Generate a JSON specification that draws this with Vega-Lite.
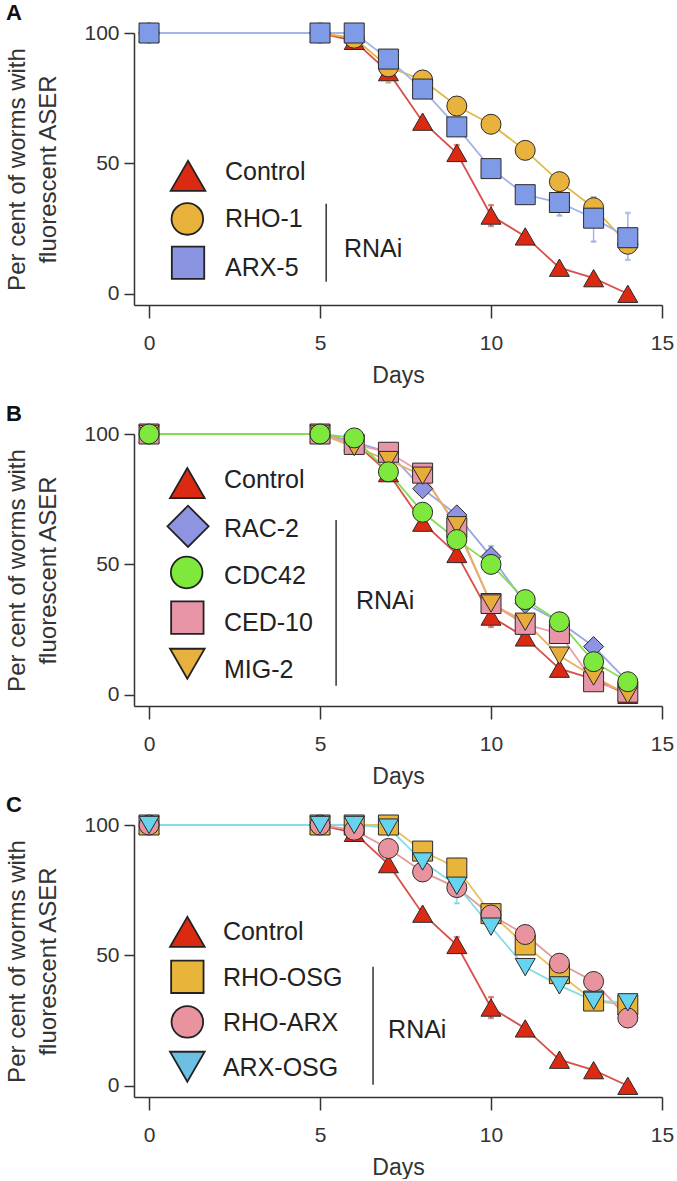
{
"$schema": "https://vega.github.io/schema/vega-lite/v6.json",
"background": "white",
"padding": {"left": 5, "top": 2, "right": 2, "bottom": 0},
"spacing": 16,
"resolve": {"scale": {"fill": "independent", "shape": "independent", "stroke": "independent"}, "legend": {"fill": "independent", "shape": "independent"}},
"config": {
  "view": {"stroke": null},
  "font": "Liberation Sans",
  "axis": {"grid": false, "domainColor": "#333", "domainWidth": 1.5, "tickColor": "#333", "tickWidth": 1.5, "labelFont": "Liberation Sans", "labelFontSize": 21, "labelColor": "#333", "titleFont": "Liberation Sans", "titleFontWeight": "normal", "titleColor": "#333", "labelOverlap": false},
  "axisX": {"tickSize": 13, "labelPadding": 14, "titleFontSize": 23, "titlePadding": 11, "labelFlush": false},
  "axisY": {"tickSize": 10, "labelPadding": 5, "titleFontSize": 24, "titlePadding": 23, "titleLineHeight": 31},
  "text": {"font": "Liberation Sans", "fontSize": 25, "align": "left", "baseline": "middle", "color": "#222"},
  "title": {"anchor": "start", "frame": "bounds", "fontSize": 22, "fontWeight": "bold", "font": "Liberation Sans", "color": "#111", "offset": -4}
},
"datasets": {
  "a": [
    {"s":"Control","d":0,"v":100},{"s":"Control","d":5,"v":100},{"s":"Control","d":6,"v":97},{"s":"Control","d":7,"v":85},{"s":"Control","d":8,"v":66},{"s":"Control","d":9,"v":54,"lo":51,"hi":57},{"s":"Control","d":10,"v":30,"lo":26,"hi":34},{"s":"Control","d":11,"v":22},{"s":"Control","d":12,"v":10},{"s":"Control","d":13,"v":6},{"s":"Control","d":14,"v":0},
    {"s":"RHO-1","d":0,"v":100},{"s":"RHO-1","d":5,"v":100},{"s":"RHO-1","d":6,"v":98},{"s":"RHO-1","d":7,"v":87,"lo":81,"hi":91},{"s":"RHO-1","d":8,"v":82},{"s":"RHO-1","d":9,"v":72},{"s":"RHO-1","d":10,"v":65},{"s":"RHO-1","d":11,"v":55},{"s":"RHO-1","d":12,"v":43},{"s":"RHO-1","d":13,"v":33,"lo":29,"hi":37},{"s":"RHO-1","d":14,"v":19},
    {"s":"ARX-5","d":0,"v":100},{"s":"ARX-5","d":5,"v":100},{"s":"ARX-5","d":6,"v":100},{"s":"ARX-5","d":7,"v":90},{"s":"ARX-5","d":8,"v":78.5},{"s":"ARX-5","d":9,"v":64},{"s":"ARX-5","d":10,"v":48},{"s":"ARX-5","d":11,"v":38,"lo":35,"hi":41},{"s":"ARX-5","d":12,"v":35,"lo":30,"hi":40},{"s":"ARX-5","d":13,"v":29,"lo":20,"hi":37},{"s":"ARX-5","d":14,"v":21.5,"lo":13,"hi":31}
  ],
  "b": [
    {"s":"Control","d":0,"v":100},{"s":"Control","d":5,"v":100},{"s":"Control","d":6,"v":97},{"s":"Control","d":7,"v":85},{"s":"Control","d":8,"v":66},{"s":"Control","d":9,"v":54,"lo":51,"hi":57},{"s":"Control","d":10,"v":30,"lo":26,"hi":34},{"s":"Control","d":11,"v":22},{"s":"Control","d":12,"v":10},{"s":"Control","d":13,"v":6},{"s":"Control","d":14,"v":0},
    {"s":"RAC-2","d":0,"v":100},{"s":"RAC-2","d":5,"v":100},{"s":"RAC-2","d":6,"v":97},{"s":"RAC-2","d":7,"v":93},{"s":"RAC-2","d":8,"v":79},{"s":"RAC-2","d":9,"v":69},{"s":"RAC-2","d":10,"v":53,"lo":50,"hi":57},{"s":"RAC-2","d":11,"v":35},{"s":"RAC-2","d":12,"v":28},{"s":"RAC-2","d":13,"v":18.5},{"s":"RAC-2","d":14,"v":5},
    {"s":"CED-10","d":0,"v":100},{"s":"CED-10","d":5,"v":100},{"s":"CED-10","d":6,"v":96},{"s":"CED-10","d":7,"v":93},{"s":"CED-10","d":8,"v":85},{"s":"CED-10","d":9,"v":64},{"s":"CED-10","d":10,"v":35},{"s":"CED-10","d":11,"v":27},{"s":"CED-10","d":12,"v":23.5},{"s":"CED-10","d":13,"v":5},{"s":"CED-10","d":14,"v":1},
    {"s":"MIG-2","d":0,"v":100},{"s":"MIG-2","d":5,"v":100},{"s":"MIG-2","d":6,"v":95},{"s":"MIG-2","d":7,"v":90},{"s":"MIG-2","d":8,"v":84},{"s":"MIG-2","d":9,"v":65},{"s":"MIG-2","d":10,"v":35},{"s":"MIG-2","d":11,"v":28},{"s":"MIG-2","d":12,"v":15},{"s":"MIG-2","d":13,"v":7},{"s":"MIG-2","d":14,"v":0},
    {"s":"CDC42","d":0,"v":100},{"s":"CDC42","d":5,"v":100},{"s":"CDC42","d":6,"v":98.5},{"s":"CDC42","d":7,"v":85.5},{"s":"CDC42","d":8,"v":70},{"s":"CDC42","d":9,"v":59.5},{"s":"CDC42","d":10,"v":50},{"s":"CDC42","d":11,"v":36.5},{"s":"CDC42","d":12,"v":28},{"s":"CDC42","d":13,"v":12.7},{"s":"CDC42","d":14,"v":5}
  ],
  "c": [
    {"s":"Control","d":0,"v":100},{"s":"Control","d":5,"v":100},{"s":"Control","d":6,"v":97},{"s":"Control","d":7,"v":85},{"s":"Control","d":8,"v":66},{"s":"Control","d":9,"v":54,"lo":51,"hi":57},{"s":"Control","d":10,"v":30,"lo":26,"hi":34},{"s":"Control","d":11,"v":22},{"s":"Control","d":12,"v":10},{"s":"Control","d":13,"v":6},{"s":"Control","d":14,"v":0},
    {"s":"RHO-OSG","d":0,"v":100},{"s":"RHO-OSG","d":5,"v":100},{"s":"RHO-OSG","d":6,"v":100},{"s":"RHO-OSG","d":7,"v":100},{"s":"RHO-OSG","d":8,"v":90},{"s":"RHO-OSG","d":9,"v":83.5,"lo":79,"hi":87},{"s":"RHO-OSG","d":10,"v":66},{"s":"RHO-OSG","d":11,"v":54},{"s":"RHO-OSG","d":12,"v":43},{"s":"RHO-OSG","d":13,"v":32.5},{"s":"RHO-OSG","d":14,"v":31},
    {"s":"RHO-ARX","d":0,"v":100},{"s":"RHO-ARX","d":5,"v":100},{"s":"RHO-ARX","d":6,"v":98},{"s":"RHO-ARX","d":7,"v":91},{"s":"RHO-ARX","d":8,"v":82},{"s":"RHO-ARX","d":9,"v":76},{"s":"RHO-ARX","d":10,"v":65.5},{"s":"RHO-ARX","d":11,"v":58},{"s":"RHO-ARX","d":12,"v":47},{"s":"RHO-ARX","d":13,"v":40},{"s":"RHO-ARX","d":14,"v":26},
    {"s":"ARX-OSG","d":0,"v":100},{"s":"ARX-OSG","d":5,"v":100},{"s":"ARX-OSG","d":6,"v":100},{"s":"ARX-OSG","d":7,"v":99},{"s":"ARX-OSG","d":8,"v":86},{"s":"ARX-OSG","d":9,"v":76.7,"lo":70,"hi":82},{"s":"ARX-OSG","d":10,"v":61},{"s":"ARX-OSG","d":11,"v":45.5},{"s":"ARX-OSG","d":12,"v":38.5},{"s":"ARX-OSG","d":13,"v":32.6},{"s":"ARX-OSG","d":14,"v":32}
  ],
  "one": [{}]
},
"vconcat": [
 {
  "width": 528, "height": 272,
  "title": {"text": "A"},
  "data": {"name": "a"},
  "layer": [
   {"mark": {"type": "line", "strokeWidth": 1.8},
    "encoding": {
      "x": {"field": "d", "type": "quantitative", "title": "Days", "scale": {"domain": [-0.44, 15], "nice": false, "zero": false}, "axis": {"values": [0, 5, 10, 15]}},
      "y": {"field": "v", "type": "quantitative", "title": ["Per cent of worms with", "fluorescent ASER"], "scale": {"domain": [-4.3, 100], "nice": false}, "axis": {"values": [0, 50, 100]}},
      "stroke": {"field": "s", "type": "nominal", "scale": {"domain": ["Control", "RHO-1", "ARX-5"], "range": ["#d8504a", "#e2b848", "#a4b4e8"]}, "legend": null}
    }},
   {"transform": [{"filter": "isValid(datum.lo)"}],
    "mark": {"type": "errorbar", "ticks": true, "thickness": 1.5},
    "encoding": {
      "x": {"field": "d", "type": "quantitative", "title": "Days"},
      "y": {"field": "lo", "type": "quantitative", "title": ["Per cent of worms with", "fluorescent ASER"]},
      "y2": {"field": "hi"},
      "stroke": {"field": "s", "type": "nominal", "legend": null}
    }},
   {"mark": {"type": "point", "filled": true, "size": 400, "stroke": "#2a2a2a", "strokeWidth": 1, "opacity": 1},
    "encoding": {
      "x": {"field": "d", "type": "quantitative", "title": "Days"},
      "y": {"field": "v", "type": "quantitative", "title": ["Per cent of worms with", "fluorescent ASER"]},
      "fill": {"field": "s", "type": "nominal", "scale": {"domain": ["Control", "RHO-1", "ARX-5"], "range": ["#dc2a12", "#e9b23c", "#7f9be8"]}, "legend": null},
      "shape": {"field": "s", "type": "nominal", "scale": {"domain": ["Control", "RHO-1", "ARX-5"], "range": ["triangle-up", "circle", "square"]}, "legend": null}
    }},
   {"data": {"name": "one"}, "mark": {"type": "point", "filled": true, "opacity": 1, "shape": "triangle-up", "size": 1200, "fill": "#dc2a12", "stroke": "#222", "strokeWidth": 1.8}, "encoding": {"x": {"datum": 1.14}, "y": {"datum": 45.2}}},
   {"data": {"name": "one"}, "mark": {"type": "point", "filled": true, "opacity": 1, "shape": "circle", "size": 1000, "fill": "#e9b23c", "stroke": "#222", "strokeWidth": 1.8}, "encoding": {"x": {"datum": 1.12}, "y": {"datum": 28.7}}},
   {"data": {"name": "one"}, "mark": {"type": "point", "filled": true, "opacity": 1, "shape": "square", "size": 1050, "fill": "#8a94e0", "stroke": "#222", "strokeWidth": 1.8}, "encoding": {"x": {"datum": 1.14}, "y": {"datum": 11.9}}},
   {"data": {"name": "one"}, "mark": {"type": "text", "text": "Control"}, "encoding": {"x": {"datum": 2.22}, "y": {"datum": 46.7}}},
   {"data": {"name": "one"}, "mark": {"type": "text", "text": "RHO-1"}, "encoding": {"x": {"datum": 2.22}, "y": {"datum": 28.7}}},
   {"data": {"name": "one"}, "mark": {"type": "text", "text": "ARX-5"}, "encoding": {"x": {"datum": 2.22}, "y": {"datum": 10}}},
   {"data": {"name": "one"}, "mark": {"type": "rule", "color": "#333", "strokeWidth": 1.5},
    "encoding": {"x": {"datum": 5.18}, "y": {"datum": 34.5}, "y2": {"datum": 4.6}}},
   {"data": {"name": "one"}, "mark": {"type": "text", "text": "RNAi"},
    "encoding": {"x": {"datum": 5.7}, "y": {"datum": 17}}}
  ]
 },
 {
  "spacing": 6,
  "resolve": {"scale": {"fill": "independent", "shape": "independent", "stroke": "independent"}, "legend": {"fill": "independent", "shape": "independent"}},
  "vconcat": [
   {
    "width": 528, "height": 272,
    "title": {"text": "B"},
    "data": {"name": "b"},
    "layer": [
     {"mark": {"type": "line", "strokeWidth": 1.8},
      "encoding": {
        "x": {"field": "d", "type": "quantitative", "title": "Days", "scale": {"domain": [-0.44, 15], "nice": false, "zero": false}, "axis": {"values": [0, 5, 10, 15]}},
        "y": {"field": "v", "type": "quantitative", "title": ["Per cent of worms with", "fluorescent ASER"], "scale": {"domain": [-4.3, 100], "nice": false}, "axis": {"values": [0, 50, 100]}},
        "stroke": {"field": "s", "type": "nominal", "scale": {"domain": ["Control", "RAC-2", "CDC42", "CED-10", "MIG-2"], "range": ["#d8504a", "#9aa6e8", "#86dc50", "#e8a0a8", "#e8b060"]}, "legend": null}
      }},
     {"transform": [{"filter": "isValid(datum.lo)"}],
      "mark": {"type": "errorbar", "ticks": true, "thickness": 1.5},
      "encoding": {
        "x": {"field": "d", "type": "quantitative", "title": "Days"},
        "y": {"field": "lo", "type": "quantitative", "title": ["Per cent of worms with", "fluorescent ASER"]},
        "y2": {"field": "hi"},
        "stroke": {"field": "s", "type": "nominal", "legend": null}
      }},
     {"mark": {"type": "point", "filled": true, "size": 400, "stroke": "#2a2a2a", "strokeWidth": 1, "opacity": 1},
      "encoding": {
        "x": {"field": "d", "type": "quantitative", "title": "Days"},
        "y": {"field": "v", "type": "quantitative", "title": ["Per cent of worms with", "fluorescent ASER"]},
        "fill": {"field": "s", "type": "nominal", "scale": {"domain": ["Control", "RAC-2", "CDC42", "CED-10", "MIG-2"], "range": ["#dc2a12", "#8e94e2", "#7fe83c", "#e995a8", "#e8ac3a"]}, "legend": null},
        "shape": {"field": "s", "type": "nominal", "scale": {"domain": ["Control", "RAC-2", "CDC42", "CED-10", "MIG-2"], "range": ["triangle-up", "diamond", "circle", "square", "triangle-down"]}, "legend": null}
      }},
     {"data": {"name": "one"}, "mark": {"type": "point", "filled": true, "opacity": 1, "shape": "triangle-up", "size": 1200, "fill": "#dc2a12", "stroke": "#222", "strokeWidth": 1.8}, "encoding": {"x": {"datum": 1.12}, "y": {"datum": 81.2}}},
     {"data": {"name": "one"}, "mark": {"type": "point", "filled": true, "opacity": 1, "shape": "diamond", "size": 1700, "fill": "#8e94e2", "stroke": "#222", "strokeWidth": 1.8}, "encoding": {"x": {"datum": 1.14}, "y": {"datum": 64.6}}},
     {"data": {"name": "one"}, "mark": {"type": "point", "filled": true, "opacity": 1, "shape": "circle", "size": 1000, "fill": "#7fe83c", "stroke": "#222", "strokeWidth": 1.8}, "encoding": {"x": {"datum": 1.1}, "y": {"datum": 46.9}}},
     {"data": {"name": "one"}, "mark": {"type": "point", "filled": true, "opacity": 1, "shape": "square", "size": 1050, "fill": "#e995a8", "stroke": "#222", "strokeWidth": 1.8}, "encoding": {"x": {"datum": 1.12}, "y": {"datum": 29.6}}},
     {"data": {"name": "one"}, "mark": {"type": "point", "filled": true, "opacity": 1, "shape": "triangle-down", "size": 1200, "fill": "#e8b03c", "stroke": "#222", "strokeWidth": 1.8}, "encoding": {"x": {"datum": 1.12}, "y": {"datum": 11.9}}},
     {"data": {"name": "one"}, "mark": {"type": "text", "text": "Control"}, "encoding": {"x": {"datum": 2.19}, "y": {"datum": 82.3}}},
     {"data": {"name": "one"}, "mark": {"type": "text", "text": "RAC-2"}, "encoding": {"x": {"datum": 2.19}, "y": {"datum": 63.5}}},
     {"data": {"name": "one"}, "mark": {"type": "text", "text": "CDC42"}, "encoding": {"x": {"datum": 2.19}, "y": {"datum": 45.5}}},
     {"data": {"name": "one"}, "mark": {"type": "text", "text": "CED-10"}, "encoding": {"x": {"datum": 2.19}, "y": {"datum": 27.5}}},
     {"data": {"name": "one"}, "mark": {"type": "text", "text": "MIG-2"}, "encoding": {"x": {"datum": 2.19}, "y": {"datum": 9.5}}},
     {"data": {"name": "one"}, "mark": {"type": "rule", "color": "#333", "strokeWidth": 1.5},
      "encoding": {"x": {"datum": 5.47}, "y": {"datum": 67}, "y2": {"datum": 3.5}}},
     {"data": {"name": "one"}, "mark": {"type": "text", "text": "RNAi"},
      "encoding": {"x": {"datum": 6.05}, "y": {"datum": 36}}}
    ]
   },
   {
    "width": 528, "height": 272,
    "title": {"text": "C"},
    "data": {"name": "c"},
    "layer": [
     {"mark": {"type": "line", "strokeWidth": 1.8},
      "encoding": {
        "x": {"field": "d", "type": "quantitative", "title": "Days", "scale": {"domain": [-0.44, 15], "nice": false, "zero": false}, "axis": {"values": [0, 5, 10, 15]}},
        "y": {"field": "v", "type": "quantitative", "title": ["Per cent of worms with", "fluorescent ASER"], "scale": {"domain": [-4.3, 100], "nice": false}, "axis": {"values": [0, 50, 100]}},
        "stroke": {"field": "s", "type": "nominal", "scale": {"domain": ["Control", "RHO-OSG", "RHO-ARX", "ARX-OSG"], "range": ["#d8504a", "#e8c060", "#e49a9a", "#86dce8"]}, "legend": null}
      }},
     {"transform": [{"filter": "isValid(datum.lo)"}],
      "mark": {"type": "errorbar", "ticks": true, "thickness": 1.5},
      "encoding": {
        "x": {"field": "d", "type": "quantitative", "title": "Days"},
        "y": {"field": "lo", "type": "quantitative", "title": ["Per cent of worms with", "fluorescent ASER"]},
        "y2": {"field": "hi"},
        "stroke": {"field": "s", "type": "nominal", "legend": null}
      }},
     {"mark": {"type": "point", "filled": true, "size": 400, "stroke": "#2a2a2a", "strokeWidth": 1, "opacity": 1},
      "encoding": {
        "x": {"field": "d", "type": "quantitative", "title": "Days"},
        "y": {"field": "v", "type": "quantitative", "title": ["Per cent of worms with", "fluorescent ASER"]},
        "fill": {"field": "s", "type": "nominal", "scale": {"domain": ["Control", "RHO-OSG", "RHO-ARX", "ARX-OSG"], "range": ["#dc2a12", "#e8b43a", "#e8939e", "#66d4ee"]}, "legend": null},
        "shape": {"field": "s", "type": "nominal", "scale": {"domain": ["Control", "RHO-OSG", "RHO-ARX", "ARX-OSG"], "range": ["triangle-up", "square", "circle", "triangle-down"]}, "legend": null}
      }},
     {"data": {"name": "one"}, "mark": {"type": "point", "filled": true, "opacity": 1, "shape": "triangle-up", "size": 1200, "fill": "#dc2a12", "stroke": "#222", "strokeWidth": 1.8}, "encoding": {"x": {"datum": 1.12}, "y": {"datum": 59}}},
     {"data": {"name": "one"}, "mark": {"type": "point", "filled": true, "opacity": 1, "shape": "square", "size": 1050, "fill": "#e8b43a", "stroke": "#222", "strokeWidth": 1.8}, "encoding": {"x": {"datum": 1.12}, "y": {"datum": 41.8}}},
     {"data": {"name": "one"}, "mark": {"type": "point", "filled": true, "opacity": 1, "shape": "circle", "size": 1000, "fill": "#e8939e", "stroke": "#222", "strokeWidth": 1.8}, "encoding": {"x": {"datum": 1.12}, "y": {"datum": 24.5}}},
     {"data": {"name": "one"}, "mark": {"type": "point", "filled": true, "opacity": 1, "shape": "triangle-down", "size": 1200, "fill": "#6cc0e4", "stroke": "#222", "strokeWidth": 1.8}, "encoding": {"x": {"datum": 1.12}, "y": {"datum": 7.3}}},
     {"data": {"name": "one"}, "mark": {"type": "text", "text": "Control"}, "encoding": {"x": {"datum": 2.16}, "y": {"datum": 59}}},
     {"data": {"name": "one"}, "mark": {"type": "text", "text": "RHO-OSG"}, "encoding": {"x": {"datum": 2.16}, "y": {"datum": 41.4}}},
     {"data": {"name": "one"}, "mark": {"type": "text", "text": "RHO-ARX"}, "encoding": {"x": {"datum": 2.16}, "y": {"datum": 24.1}}},
     {"data": {"name": "one"}, "mark": {"type": "text", "text": "ARX-OSG"}, "encoding": {"x": {"datum": 2.16}, "y": {"datum": 6.9}}},
     {"data": {"name": "one"}, "mark": {"type": "rule", "color": "#333", "strokeWidth": 1.5},
      "encoding": {"x": {"datum": 6.55}, "y": {"datum": 45.6}, "y2": {"datum": 0.4}}},
     {"data": {"name": "one"}, "mark": {"type": "text", "text": "RNAi"},
      "encoding": {"x": {"datum": 6.99}, "y": {"datum": 21.5}}}
    ]
   }
  ]
 }
]
}
